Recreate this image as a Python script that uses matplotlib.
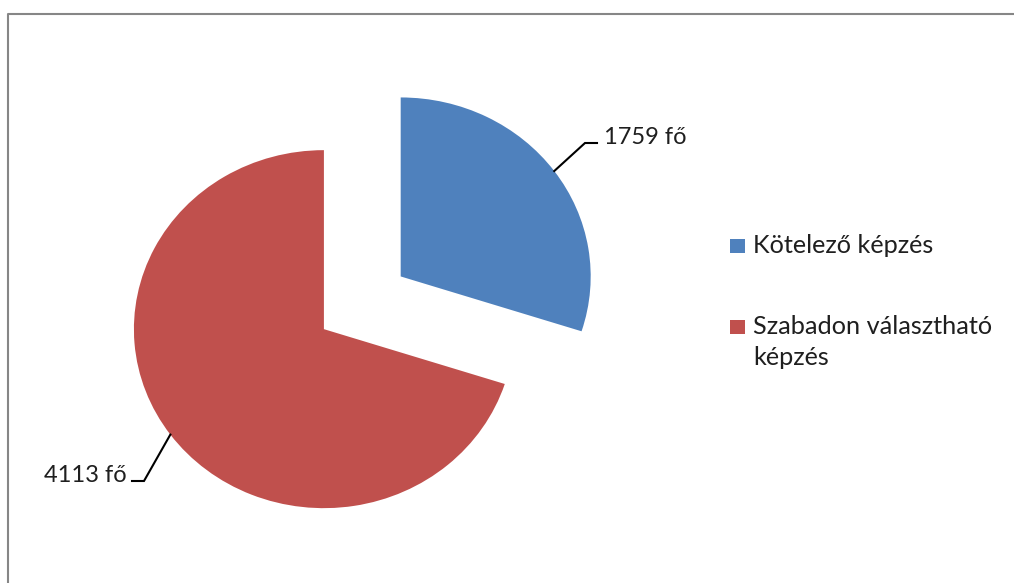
import numpy as np
import matplotlib.pyplot as plt
from matplotlib.patches import Rectangle

categories = ["Kötelező képzés", "Szabadon választható\nképzés"]
counts = [1759, 4113]
colors = ["#4F81BD", "#C0504D"]
value_labels = ["{} fő".format(v) for v in counts]

plt.rcParams['font.family'] = ['Lato', 'DejaVu Sans']

W, H = 1014, 583
RX, RY = 190.0, 179.0  # pie radius in pixels, the picture is a bit stretched sideways
FS = 17
FS_LEG = 18.2
TXT = '#1f1f1f'
LINE_STEP = 31  # px between legend text lines


def px(x, y):
    # pixel position (origin top left) -> data units, pie = unit circle
    return x / RX, (H - y) / RY


fig = plt.figure(figsize=(W / 100, H / 100), dpi=100)
ax = fig.add_axes([0, 0, 1, 1])

cx, cy = px(362.3, 302.8)
wedges, _ = ax.pie(counts, colors=colors, startangle=90, counterclock=False,
                   radius=1.0, center=(cx, cy), explode=[0.25, 0.25],
                   wedgeprops=dict(linewidth=0))
ax.set_aspect('auto')
ax.set_xlim(0, W / RX)
ax.set_ylim(0, H / RY)
ax.axis('off')

# leader lines + value labels
elbows = [((585, 143), (597, 143), (604, 143.5), 'left'),
          ((144, 481), (132, 481), (127, 481.5), 'right')]
for w, lab, (e1, e2, tp, ha) in zip(wedges, value_labels, elbows):
    mid = np.deg2rad((w.theta1 + w.theta2) / 2)
    sx = w.center[0] + w.r * np.cos(mid)
    sy = w.center[1] + w.r * np.sin(mid)
    p1 = px(*e1)
    p2 = px(*e2)
    ax.plot([sx, p1[0], p2[0]], [sy, p1[1], p2[1]], color='black', lw=1.5,
            solid_joinstyle='miter')
    tx, ty = px(*tp)
    ax.text(tx, ty, lab, ha=ha, va='baseline', fontsize=FS, color=TXT)

# legend, square sits on the first text line
leg_y = [253.3, 334.3]
for lab, col, by in zip(categories, colors, leg_y):
    x0, y0 = px(730, by)
    x1, y1 = px(745, by - 14.5)
    ax.add_patch(Rectangle((x0, y0), x1 - x0, y1 - y0, facecolor=col, edgecolor='none'))
    lines = lab.split('\n')
    for i, ln in enumerate(lines):
        tx, ty = px(753, by + i * LINE_STEP)
        ax.text(tx, ty, ln, ha='left', va='baseline', fontsize=FS_LEG, color=TXT)

# chart area border (only top and left visible)
bx, by = px(8.3, 583)
tx_, ty_ = px(8.3, 14.3)
ex, ey = px(1014, 14.3)
ax.plot([bx, tx_, ex], [by, ty_, ey], color='#868686', lw=1.5, clip_on=False)

fig.savefig('out.png', dpi=100)
